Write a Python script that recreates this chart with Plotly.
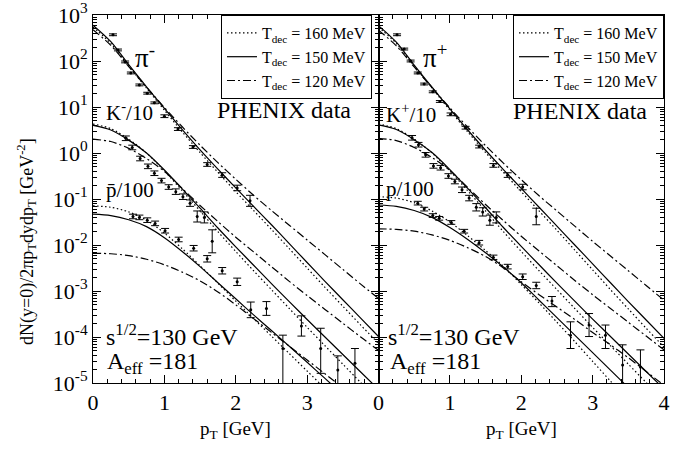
import numpy as np
import plotly.graph_objects as go

# ---------------- model curves (log10 of dN/...) ----------------
pt_model = [0.0, 0.25, 0.5, 0.75, 1.0, 1.25, 1.5, 1.75, 2.0, 2.25, 2.5, 2.75, 3.0, 3.25, 3.5, 3.75, 4.0]

# left panel: pi-, K-/10, pbar/100
log_pim_160 = [2.74, 2.38, 1.89, 1.41, 0.93, 0.46, 0.01, -0.42, -0.84, -1.25, -1.66, -2.08, -2.50, -2.92, -3.33, -3.74, -4.14]
log_pim_150 = [2.78, 2.42, 1.92, 1.44, 0.97, 0.51, 0.07, -0.35, -0.76, -1.16, -1.56, -1.97, -2.38, -2.79, -3.19, -3.59, -3.99]
log_pim_120 = [2.68, 2.34, 1.88, 1.43, 0.99, 0.57, 0.17, -0.21, -0.57, -0.92, -1.25, -1.57, -1.89, -2.21, -2.53, -2.85, -3.16]
log_km_160 = [0.63, 0.53, 0.30, 0.00, -0.39, -0.82, -1.26, -1.71, -2.14, -2.56, -2.97, -3.38, -3.79, -4.19, -4.59, -4.99, -5.39]
log_km_150 = [0.60, 0.50, 0.28, 0.00, -0.37, -0.78, -1.20, -1.63, -2.04, -2.44, -2.84, -3.23, -3.62, -4.00, -4.38, -4.76, -5.14]
log_km_120 = [0.30, 0.25, 0.10, -0.12, -0.40, -0.77, -1.14, -1.49, -1.83, -2.15, -2.47, -2.79, -3.10, -3.40, -3.70, -4.00, -4.29]
log_pbar_160 = [-1.15, -1.18, -1.28, -1.46, -1.74, -2.08, -2.45, -2.83, -3.22, -3.60, -3.98, -4.36, -4.74, -5.12, -5.50, -5.88, -6.26]
log_pbar_150 = [-1.33, -1.36, -1.45, -1.60, -1.84, -2.14, -2.47, -2.82, -3.17, -3.52, -3.86, -4.20, -4.55, -4.90, -5.25, -5.60, -5.95]
log_pbar_120 = [-2.18, -2.19, -2.23, -2.31, -2.43, -2.59, -2.78, -3.02, -3.30, -3.60, -3.90, -4.20, -4.50, -4.80, -5.10, -5.40, -5.70]

# right panel: pi+, K+/10, p/100
log_pip_160 = [2.74, 2.38, 1.89, 1.41, 0.93, 0.46, 0.01, -0.42, -0.84, -1.26, -1.68, -2.11, -2.54, -2.97, -3.39, -3.81, -4.22]
log_pip_150 = [2.77, 2.41, 1.91, 1.43, 0.96, 0.50, 0.06, -0.36, -0.77, -1.18, -1.59, -2.00, -2.41, -2.82, -3.23, -3.63, -4.03]
log_pip_120 = [2.67, 2.33, 1.87, 1.42, 0.98, 0.56, 0.16, -0.22, -0.58, -0.93, -1.26, -1.59, -1.92, -2.24, -2.56, -2.88, -3.20]
log_kp_160 = [0.63, 0.53, 0.30, 0.00, -0.39, -0.82, -1.26, -1.71, -2.14, -2.56, -2.97, -3.38, -3.79, -4.19, -4.59, -4.99, -5.39]
log_kp_150 = [0.61, 0.51, 0.29, 0.01, -0.36, -0.77, -1.19, -1.62, -2.03, -2.43, -2.83, -3.22, -3.61, -3.99, -4.37, -4.75, -5.13]
log_kp_120 = [0.32, 0.27, 0.12, -0.10, -0.38, -0.75, -1.12, -1.47, -1.81, -2.13, -2.45, -2.77, -3.08, -3.38, -3.68, -3.98, -4.28]
log_p_160 = [-0.95, -0.98, -1.08, -1.26, -1.50, -1.80, -2.12, -2.46, -2.86, -3.26, -3.68, -4.10, -4.53, -4.96, -5.40, -5.84, -6.28]
log_p_150 = [-1.13, -1.16, -1.25, -1.40, -1.62, -1.88, -2.17, -2.48, -2.82, -3.20, -3.58, -3.96, -4.34, -4.72, -5.10, -5.48, -5.86]
log_p_120 = [-1.65, -1.66, -1.70, -1.78, -1.90, -2.06, -2.25, -2.50, -2.80, -3.08, -3.35, -3.62, -3.90, -4.17, -4.45, -4.75, -5.05]

# ---------------- PHENIX data (log10 value, error up / down in decades) ----------------
pim_pt = [0.28, 0.35, 0.45, 0.53, 0.65, 0.76, 0.86, 1.00, 1.19, 1.40, 1.60, 1.81, 2.02, 2.20]
pim_log = [2.57, 2.24, 1.98, 1.74, 1.48, 1.30, 1.09, 0.80, 0.52, 0.13, -0.25, -0.48, -0.76, -1.04]
pim_eup = [0.02, 0.02, 0.02, 0.02, 0.02, 0.02, 0.02, 0.03, 0.03, 0.03, 0.04, 0.05, 0.06, 0.12]
pim_edn = [0.02, 0.02, 0.02, 0.02, 0.02, 0.02, 0.02, 0.03, 0.03, 0.03, 0.04, 0.05, 0.06, 0.12]

pip_pt = [0.26, 0.36, 0.45, 0.55, 0.64, 0.76, 0.86, 1.01, 1.22, 1.41, 1.61, 1.81, 2.02, 2.21]
pip_log = [2.57, 2.26, 2.00, 1.74, 1.50, 1.33, 1.12, 0.84, 0.55, 0.14, -0.27, -0.48, -0.74, -1.38]
pip_eup = [0.02, 0.02, 0.02, 0.02, 0.02, 0.02, 0.02, 0.03, 0.03, 0.03, 0.04, 0.05, 0.06, 0.18]
pip_edn = [0.02, 0.02, 0.02, 0.02, 0.02, 0.02, 0.02, 0.03, 0.03, 0.03, 0.04, 0.05, 0.06, 0.18]

km_pt = [0.46, 0.55, 0.66, 0.77, 0.86, 0.96, 1.06, 1.16, 1.26, 1.36, 1.46, 1.56]
km_log = [0.32, 0.12, -0.12, -0.29, -0.44, -0.60, -0.74, -0.84, -0.95, -1.09, -1.38, -1.40]
km_eup = [0.05, 0.05, 0.05, 0.05, 0.05, 0.05, 0.05, 0.06, 0.06, 0.07, 0.12, 0.12]
km_edn = [0.05, 0.05, 0.05, 0.05, 0.05, 0.05, 0.05, 0.06, 0.06, 0.07, 0.12, 0.12]

kp_pt = [0.47, 0.56, 0.66, 0.77, 0.87, 0.98, 1.07, 1.17, 1.27, 1.37, 1.46, 1.56, 1.65]
kp_log = [0.33, 0.18, -0.04, -0.28, -0.32, -0.50, -0.62, -0.80, -0.98, -1.18, -1.28, -1.46, -1.40]
kp_eup = [0.05, 0.05, 0.05, 0.05, 0.05, 0.05, 0.05, 0.06, 0.06, 0.08, 0.09, 0.11, 0.12]
kp_edn = [0.05, 0.05, 0.05, 0.05, 0.05, 0.05, 0.05, 0.06, 0.06, 0.08, 0.09, 0.11, 0.12]

pbar_pt = [0.56, 0.65, 0.76, 0.87, 1.01, 1.20, 1.41, 1.60, 1.67, 1.81, 2.02, 2.21, 2.43, 2.66, 2.92, 3.19, 3.43, 3.67]
pbar_log = [-1.38, -1.40, -1.46, -1.53, -1.69, -1.88, -2.07, -2.30, -1.92, -2.56, -2.80, -3.41, -3.38, -4.25, -3.76, -4.25, -4.72, -4.57]
pbar_eup = [0.05, 0.05, 0.05, 0.05, 0.05, 0.05, 0.06, 0.07, 0.25, 0.07, 0.08, 0.17, 0.15, 0.29, 0.22, 0.44, 0.31, 0.32]
pbar_edn = [0.05, 0.05, 0.05, 0.05, 0.05, 0.05, 0.06, 0.07, 0.25, 0.07, 0.08, 0.17, 0.15, 2.00, 0.22, 0.54, 2.00, 2.00]

p_pt = [0.55, 0.64, 0.76, 0.85, 1.02, 1.20, 1.41, 1.61, 1.81, 2.02, 2.21, 2.43, 2.69, 2.95, 3.18, 3.42, 3.67]
p_log = [-1.09, -1.22, -1.36, -1.42, -1.51, -1.70, -1.95, -2.27, -2.47, -2.69, -2.88, -3.22, -3.96, -3.74, -3.96, -4.61, -4.65]
p_eup = [0.04, 0.04, 0.04, 0.04, 0.04, 0.04, 0.05, 0.05, 0.05, 0.06, 0.07, 0.10, 0.29, 0.25, 0.22, 0.44, 0.37]
p_edn = [0.04, 0.04, 0.04, 0.04, 0.04, 0.04, 0.05, 0.05, 0.05, 0.06, 0.07, 0.12, 0.29, 0.25, 0.29, 2.00, 2.00]

legend_labels = ["T<sub>dec</sub> = 160 MeV", "T<sub>dec</sub> = 150 MeV", "T<sub>dec</sub> = 120 MeV"]
y_tick_exps = [-5, -4, -3, -2, -1, 0, 1, 2, 3]

FONT = "Liberation Serif"
DOT = "1.5px,2.5px"
DASHDOT = "8px,3px,2px,3px"

fig = go.Figure()


def add_model(xa, ya, logs, dash, label, legend, show):
    fig.add_trace(go.Scatter(
        x=pt_model, y=np.power(10.0, np.array(logs)), mode="lines",
        line=dict(color="black", width=1.2, dash=dash, shape="spline", smoothing=0.8),
        xaxis=xa, yaxis=ya, name=label, legend=legend, showlegend=show, hoverinfo="skip"))


def add_data(xa, ya, pts, logs, eup, edn):
    l = np.array(logs)
    y = np.power(10.0, l)
    up = np.power(10.0, l + np.array(eup)) - y
    dn = y - np.power(10.0, l - np.array(edn))
    fig.add_trace(go.Scatter(
        x=pts, y=y, mode="markers",
        marker=dict(color="black", size=3),
        error_y=dict(type="data", symmetric=False, array=up, arrayminus=dn,
                     color="black", thickness=1, width=4),
        xaxis=xa, yaxis=ya, showlegend=False, hoverinfo="skip"))


styles = [DOT, "solid", DASHDOT]
left_sets = [[log_pim_160, log_pim_150, log_pim_120],
             [log_km_160, log_km_150, log_km_120],
             [log_pbar_160, log_pbar_150, log_pbar_120]]
right_sets = [[log_pip_160, log_pip_150, log_pip_120],
              [log_kp_160, log_kp_150, log_kp_120],
              [log_p_160, log_p_150, log_p_120]]

for si, group in enumerate(left_sets):
    for k, logs in enumerate(group):
        add_model("x", "y", logs, styles[k], legend_labels[k], "legend", si == 0)
for si, group in enumerate(right_sets):
    for k, logs in enumerate(group):
        add_model("x2", "y2", logs, styles[k], legend_labels[k], "legend2", si == 0)

add_data("x", "y", pim_pt, pim_log, pim_eup, pim_edn)
add_data("x", "y", km_pt, km_log, km_eup, km_edn)
add_data("x", "y", pbar_pt, pbar_log, pbar_eup, pbar_edn)
add_data("x2", "y2", pip_pt, pip_log, pip_eup, pip_edn)
add_data("x2", "y2", kp_pt, kp_log, kp_eup, kp_edn)
add_data("x2", "y2", p_pt, p_log, p_eup, p_edn)

y_minor = [m * 10.0 ** e for e in range(-5, 3) for m in range(2, 10)]
x_minor = [i * 0.2 for i in range(21) if i % 5 != 0]

axis_common = dict(showline=True, linecolor="black", linewidth=1, mirror="allticks",
                   ticks="inside", ticklen=8, tickwidth=1, tickcolor="black",
                   showgrid=False, zeroline=False, automargin=False,
                   ticklabeloverflow="allow",
                   tickfont=dict(family=FONT, size=22, color="black"))

yaxis_common = dict(axis_common, type="log", range=[-5, 3],
                    tickvals=[10.0 ** e for e in y_tick_exps],
                    ticktext=["10<sup>%d</sup>" % e for e in y_tick_exps],
                    minor=dict(tickvals=y_minor, ticks="inside", ticklen=4, tickcolor="black"))

legend_common = dict(y=1, yanchor="top", yref="paper", bgcolor="white",
                     bordercolor="black", borderwidth=1, itemwidth=30, tracegroupgap=0,
                     font=dict(family=FONT, size=16, color="black"))

fig.update_layout(
    width=689, height=451,
    margin=dict(l=93, r=25, t=15, b=68, autoexpand=False),
    paper_bgcolor="white", plot_bgcolor="white",
    font=dict(family=FONT, color="black"),
    xaxis=dict(axis_common, domain=[0, 0.5], range=[0, 4], tickvals=[0, 1, 2, 3],
               minor=dict(tickvals=x_minor, ticks="inside", ticklen=4, tickcolor="black"),
               anchor="y"),
    xaxis2=dict(axis_common, domain=[0.5, 1], range=[0, 4], tickvals=[0, 1, 2, 3, 4],
                minor=dict(tickvals=x_minor, ticks="inside", ticklen=4, tickcolor="black"),
                anchor="y2"),
    yaxis=dict(yaxis_common, anchor="x"),
    yaxis2=dict(yaxis_common, anchor="x2", showticklabels=False),
    legend=dict(legend_common, x=0.4886, xanchor="right"),
    legend2=dict(legend_common, x=1.0, xanchor="right"),
)


def ann(text, x, y, xref, yref, size, xanchor="left", yanchor="middle", angle=0):
    fig.add_annotation(text=text, x=x, y=y, xref=xref, yref=yref, showarrow=False,
                       xanchor=xanchor, yanchor=yanchor, textangle=angle,
                       font=dict(family=FONT, size=size, color="black"))


# panel labels (data coordinates; y in log10 units)
ann("π<sup>-</sup>", 0.56, 2.1, "x", "y", 27)
ann("K<sup>-</sup>/10", 0.15, 0.9, "x", "y", 21)
ann("p\u0304/100", 0.15, -0.8, "x", "y", 21)
ann("PHENIX data", 2.68, 0.93, "x", "y", 24, xanchor="center")
ann("s<sup>1/2</sup>=130 GeV", 0.15, -3.95, "x", "y", 24)
ann("A<sub>eff</sub> =181", 0.17, -4.57, "x", "y", 24)

ann("π<sup>+</sup>", 0.59, 2.1, "x2", "y2", 27)
ann("K<sup>+</sup>/10", 0.08, 0.85, "x2", "y2", 21)
ann("p/100", 0.08, -0.78, "x2", "y2", 21)
ann("PHENIX data", 2.83, 0.91, "x2", "y2", 24, xanchor="center")
ann("s<sup>1/2</sup>=130 GeV", 0.11, -3.95, "x2", "y2", 24)
ann("A<sub>eff</sub> =181", 0.13, -4.57, "x2", "y2", 24)

# axis titles
ann("dN(y=0)/2πp<sub>T</sub>dydp<sub>T</sub> [GeV<sup>-2</sup>]", -0.1156, 0.386, "paper", "paper", 18,
    xanchor="center", yanchor="middle", angle=-90)
ann("p<sub>T</sub> [GeV]", 0.25, -0.128, "paper", "paper", 19, xanchor="center")
ann("p<sub>T</sub> [GeV]", 0.75, -0.128, "paper", "paper", 19, xanchor="center")

fig.write_html("out.html", config={"displayModeBar": False},
               post_script="document.body.style.margin='0px';")
